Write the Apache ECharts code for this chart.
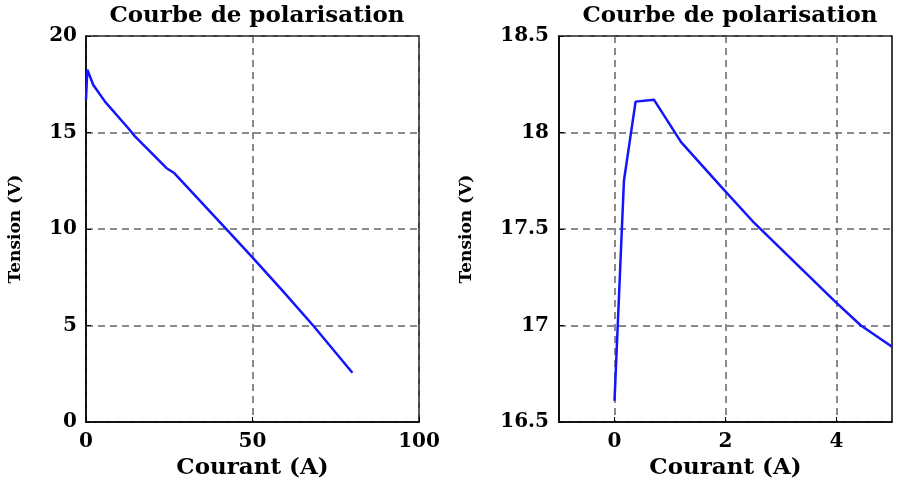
<!DOCTYPE html>
<html>
<head>
<meta charset="utf-8">
<script src="https://cdn.jsdelivr.net/npm/echarts@6/dist/echarts.min.js"></script>
<style>html,body{margin:0;padding:0;background:#fff;}#c{width:897px;height:492px;}</style>
</head>
<body>
<div id="c"></div>
<script>
// Left panel: full polarisation curve
const leftCurrent = [0, 0.4, 2.2, 5.7, 12.7, 14.7, 24.2, 26.5, 42, 49.7, 59.2, 68.2, 80];
const leftVoltage = [16.7, 18.25, 17.46, 16.6, 15.22, 14.8, 13.15, 12.9, 10.02, 8.58, 6.77, 5.0, 2.55];
// Right panel: zoom on low currents
const rightCurrent = [0, 0.17, 0.38, 0.71, 1.2, 1.92, 2.49, 3.99, 4.44, 5.0];
const rightVoltage = [16.61, 17.75, 18.16, 18.17, 17.95, 17.72, 17.54, 17.12, 17.0, 16.89];
const rightTicks = [0, 2, 4];

const titleText = 'Courbe de polarisation';
const xName = 'Courant (A)';
const yName = 'Tension (V)';

const FONT = 'DejaVu Serif';
const gridLine = { show: true, lineStyle: { color: '#666', width: 1.5, type: [7, 5] } };
const labelStyle = { color: '#000', fontFamily: FONT, fontWeight: 'bold', fontSize: 20 };
const nameStyle = { color: '#000', fontFamily: FONT, fontWeight: 'bold', fontSize: 23 };
const axisLine = { show: true, onZero: false, lineStyle: { color: '#000', width: 1.5 } };
const tick = { show: true, inside: true, length: 5, lineStyle: { color: '#000', width: 1 } };

function pairs(xs, ys) { return xs.map((x, i) => [x, ys[i]]); }

const option = {
  animation: false,
  backgroundColor: '#fff',
  title: [
    { text: titleText, left: 252, top: 0, textAlign: 'center',
      textStyle: { fontFamily: FONT, fontWeight: 'bold', fontSize: 23, color: '#000' } },
    { text: titleText, left: 725, top: 0, textAlign: 'center',
      textStyle: { fontFamily: FONT, fontWeight: 'bold', fontSize: 23, color: '#000' } }
  ],
  grid: [
    { left: 86, top: 36, width: 333, height: 386, show: true, borderColor: '#000', borderWidth: 1.5, outerBoundsMode: 'none' },
    { left: 559, top: 36, width: 333, height: 386, show: true, borderColor: '#000', borderWidth: 1.5, outerBoundsMode: 'none' }
  ],
  xAxis: [
    { type: 'value', gridIndex: 0, min: 0, max: 100, interval: 50,
      name: xName, nameLocation: 'middle', nameGap: 35, nameTextStyle: nameStyle,
      axisLine: axisLine, axisTick: tick, splitLine: gridLine,
      axisLabel: Object.assign({ margin: 10 }, labelStyle) },
    { type: 'value', gridIndex: 1, min: -1, max: 5,
      name: xName, nameLocation: 'middle', nameGap: 35, nameTextStyle: nameStyle,
      axisLine: axisLine,
      axisTick: Object.assign({ customValues: rightTicks }, tick),
      splitLine: gridLine,
      axisLabel: Object.assign({ margin: 10, customValues: rightTicks }, labelStyle) }
  ],
  yAxis: [
    { type: 'value', gridIndex: 0, min: 0, max: 20, interval: 5,
      name: yName, nameLocation: 'middle', nameGap: 62, nameRotate: 90, nameTextStyle: Object.assign({}, nameStyle, { fontSize: 17 }),
      axisLine: axisLine, axisTick: tick, splitLine: gridLine,
      axisLabel: Object.assign({ margin: 9 }, labelStyle) },
    { type: 'value', gridIndex: 1, min: 16.5, max: 18.5, interval: 0.5,
      name: yName, nameLocation: 'middle', nameGap: 84, nameRotate: 90, nameTextStyle: Object.assign({}, nameStyle, { fontSize: 17 }),
      axisLine: axisLine, axisTick: tick, splitLine: gridLine,
      axisLabel: Object.assign({ margin: 10 }, labelStyle) }
  ],
  series: [
    { type: 'line', xAxisIndex: 0, yAxisIndex: 0, data: pairs(leftCurrent, leftVoltage),
      showSymbol: false, lineStyle: { color: '#1414ff', width: 2.5 }, clip: true },
    { type: 'line', xAxisIndex: 1, yAxisIndex: 1, data: pairs(rightCurrent, rightVoltage),
      showSymbol: false, lineStyle: { color: '#1414ff', width: 2.5 }, clip: true }
  ]
};

const chart = echarts.init(document.getElementById('c'), null, { renderer: 'canvas' });
chart.setOption(option);
</script>
</body>
</html>
